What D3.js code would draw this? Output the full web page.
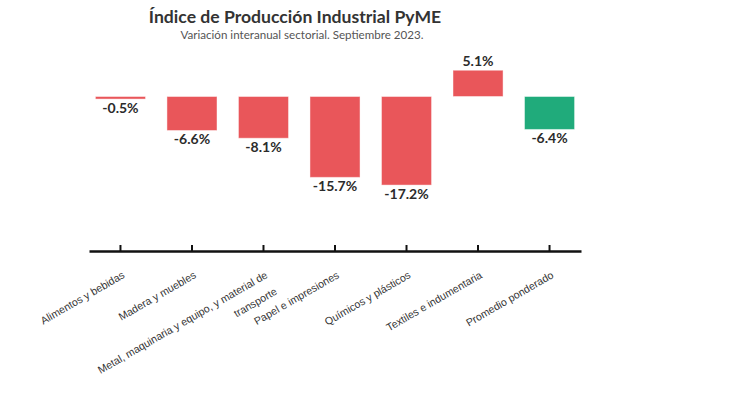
<!DOCTYPE html>
<html>
<head>
<meta charset="utf-8">
<script src="https://cdn.jsdelivr.net/npm/d3@7"></script>
<style>
    body { margin: 0; background: #fff; }
    svg { display: block; font-family: Lato, 'Open Sans', sans-serif; }
</style>
</head>
<body>
<div id="chart"></div>
<script>
// data
const categories = [
    'Alimentos y bebidas',
    'Madera y muebles',
    'Metal, maquinaria y equipo, y material de|transporte',
    'Papel e impresiones',
    'Químicos y plásticos',
    'Textiles e indumentaria',
    'Promedio ponderado',
];
const values = [-0.5, -6.6, -8.1, -15.7, -17.2, 5.1, -6.4];
const barColors = ['#e9565a', '#e9565a', '#e9565a', '#e9565a', '#e9565a', '#e9565a', '#20ab7b'];

const dimensions = {
    width: 730,
    height: 393,
    left: 89,
    right: 581,
    axisY: 251,
    top: 45,
};

const svg = d3
    .select('#chart')
    .append('svg')
    .attr('width', dimensions.width)
    .attr('height', dimensions.height);

const xScale = d3
    .scaleBand()
    .domain(categories)
    .range([dimensions.left, dimensions.right])
    .paddingInner(0.3)
    .paddingOuter(0.09);

const yScale = d3
    .scaleLinear()
    .domain([-30, 10])
    .range([dimensions.axisY, dimensions.top]);

/* Title */
svg.append('text')
    .attr('x', 295)
    .attr('y', 23)
    .attr('text-anchor', 'middle')
    .attr('font-size', 17.6)
    .attr('font-weight', 'bold')
    .attr('fill', '#333')
    .text('Índice de Producción Industrial PyME');

svg.append('text')
    .attr('x', 302)
    .attr('y', 39)
    .attr('text-anchor', 'middle')
    .attr('font-size', 11.6)
    .attr('fill', '#555')
    .text('Variación interanual sectorial. Septiembre 2023.');

/* Bars */
svg.selectAll('rect.bar')
    .data(categories)
    .join('rect')
    .attr('class', 'bar')
    .attr('x', d => xScale(d))
    .attr('width', xScale.bandwidth())
    .attr('y', (d, i) => yScale(Math.max(0, values[i])))
    .attr('height', (d, i) => Math.abs(yScale(values[i]) - yScale(0)))
    .attr('fill', (d, i) => barColors[i])
    .attr('stroke', 'rgba(255,255,255,0.45)')
    .attr('stroke-width', 1);

/* Value labels */
svg.selectAll('text.value')
    .data(categories)
    .join('text')
    .attr('class', 'value')
    .attr('x', d => xScale(d) + xScale.bandwidth() / 2)
    .attr('y', (d, i) => (values[i] < 0 ? yScale(values[i]) + 14 : yScale(values[i]) - 4))
    .attr('text-anchor', 'middle')
    .attr('font-size', 14)
    .attr('font-weight', 'bold')
    .attr('fill', '#2b2b2b')
    .text((d, i) => values[i].toFixed(1) + '%');

/* X axis */
const xAxis = d3.axisBottom(xScale).tickSizeInner(-6).tickSizeOuter(0).tickFormat('');

const gXAxis = svg.append('g').attr('transform', `translate(0, ${dimensions.axisY})`).call(xAxis);

gXAxis.select('.domain').attr('stroke', '#111').attr('stroke-width', 2.5);
gXAxis.selectAll('.tick line').attr('stroke', '#111').attr('stroke-width', 2);

gXAxis.selectAll('.tick').each(function (d) {
    const lines = d.split('|');
    const t = d3
        .select(this)
        .append('text')
        .attr('fill', '#333')
        .attr('font-size', 10.6)
        .attr('text-anchor', 'end')
        .attr('transform', 'translate(3, 23) rotate(-30)');
    lines.forEach((l, i) => {
        t.append('tspan')
            .attr('x', 0)
            .attr('y', i * 19)
            .attr('dy', '0.35em')
            .text(l);
    });
});
</script>
</body>
</html>
